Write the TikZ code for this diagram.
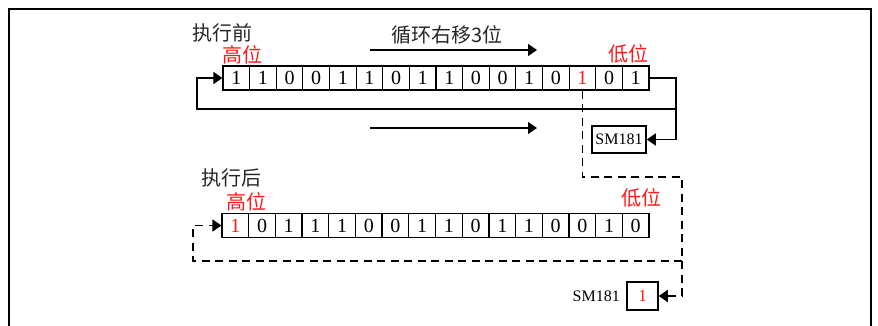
\documentclass[tikz,border=0pt]{standalone}
\usepackage{fontspec}
\setmainfont{Liberation Serif}
\newfontfamily\cjk{Noto Sans CJK SC}
\usetikzlibrary{arrows.meta}
\definecolor{txtgray}{HTML}{262626}
\definecolor{hired}{HTML}{FF1A1A}
\begin{document}
\begin{tikzpicture}[x=1pt,y=-1pt,
  cell/.style={draw,line width=1.2pt,minimum width=26.6pt,minimum height=24pt,inner sep=0pt,font=\fontsize{20}{20}\selectfont},
  lbl/.style={font=\cjk\fontsize{20}{20}\selectfont,text=txtgray,inner sep=0pt},
  redlbl/.style={font=\cjk\fontsize{20}{20}\selectfont,text=hired,inner sep=0pt},
  smbox/.style={draw,line width=1.5pt,inner sep=0pt,font=\fontsize{16}{16}\selectfont},
  conn/.style={line width=1.5pt,-{Triangle[length=9pt,width=12pt]}},
  dconn/.style={conn,dash pattern=on 8pt off 5.5pt},
]
\useasboundingbox (0,0) rectangle (878,325);
% frame
\draw[line width=2pt] (8.5,330) -- (8.5,9) -- (871,9) -- (871,330);

% labels
\node[lbl] (before) at (222,33) {执行前};
\node[lbl] (shiftlbl) at (447,35) {循环右移3位};
\node[redlbl] (hi1) at (242,55) {高位};
\node[redlbl] (lo1) at (628,54) {低位};
\node[lbl] (after) at (231,178) {执行后};
\node[redlbl] (hi2) at (246,202) {高位};
\node[redlbl] (lo2) at (641,198) {低位};

% top register
\foreach \b/\c [count=\i] in {1/black,1/black,0/black,0/black,1/black,1/black,0/black,1/black,1/black,0/black,0/black,1/black,0/black,1/hired,0/black,1/black}
  \node[cell,text=\c] (t\i) at ({223+(\i-0.5)*26.625},78) {\b};

% bottom register
\foreach \b/\c [count=\i] in {1/hired,0/black,1/black,1/black,1/black,0/black,0/black,1/black,1/black,0/black,1/black,1/black,0/black,0/black,1/black,0/black}
  \node[cell,text=\c] (b\i) at ({222+(\i-0.5)*26.69},225.5) {\b};

% SM181 boxes
\node[smbox,minimum width=54pt,minimum height=27pt] (sm1) at (619,139.5) {SM181};
\node[smbox,text=hired,minimum width=31pt,minimum height=28pt,font=\fontsize{17}{17}\selectfont] (sm2) at (642.5,296) {1};
\node[inner sep=0pt,font=\fontsize{16}{16}\selectfont,anchor=east] (sm2lbl) at (620,296.5) {SM181};

% shift arrows
\coordinate (a1s) at (370,50);
\coordinate (a1e) at (537,50);
\coordinate (a2s) at (370,128);
\coordinate (a2e) at (537,128);
\draw[conn] (a1s) -- (a1e);
\draw[conn] (a2s) -- (a2e);

% solid loop
\coordinate (rr) at (676,78);
\coordinate (j1) at (676,109);
\coordinate (lc) at (197,109);
\draw[conn] (t16.east) -- (rr) |- (sm1.east);
\draw[conn] (j1) -- (lc) |- (t1.west);

% dashed path
\coordinate (d2) at (682,177);
\coordinate (j2) at (682,261);
\coordinate (d3) at (193,261);
\draw[dconn] (t14.south) |- (d2) |- (sm2.east);
\draw[dconn] (j2) -- (d3) |- (b1.west);
\end{tikzpicture}
\end{document}
